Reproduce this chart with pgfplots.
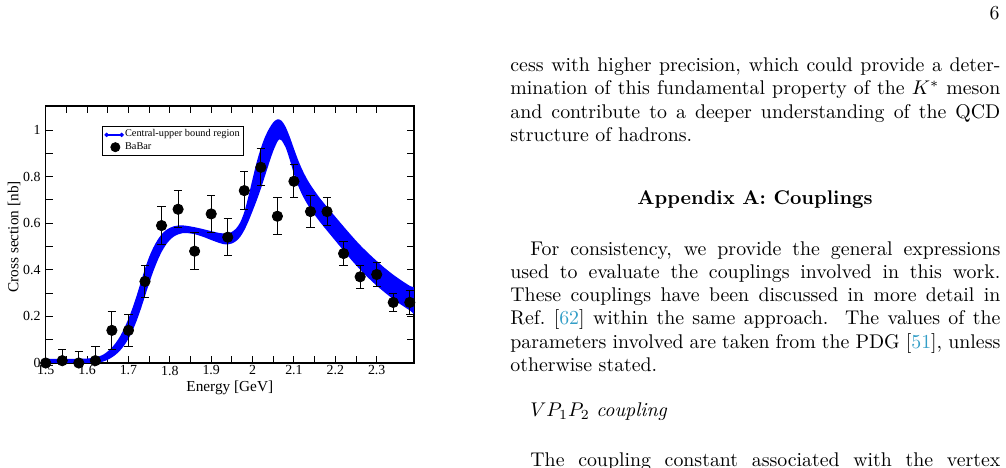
\documentclass[border=0pt]{standalone}
\usepackage{fontspec}
\usepackage{pgfplots}
\pgfplotsset{compat=1.18}
\newfontfamily\chartfont{Liberation Serif}
\definecolor{citecol}{rgb}{0.2,0.62,0.78}

% BaBar cross section: energy [GeV], sigma [nb], error
\pgfplotstableread{
E     s     e
1.50  0.00  0.00
1.54  0.01  0.05
1.58  0.00  0.05
1.62  0.01  0.06
1.66  0.14  0.08
1.70  0.14  0.07
1.74  0.35  0.07
1.78  0.59  0.08
1.82  0.66  0.08
1.86  0.48  0.08
1.90  0.64  0.08
1.94  0.54  0.08
1.98  0.74  0.08
2.02  0.84  0.08
2.06  0.63  0.08
2.10  0.78  0.07
2.14  0.65  0.07
2.18  0.65  0.06
2.22  0.47  0.05
2.26  0.37  0.05
2.30  0.38  0.05
2.34  0.26  0.04
2.38  0.26  0.05
}\babar

\begin{document}
\begin{tikzpicture}
\path[use as bounding box] (0,0) rectangle (507.02pt,-235.37pt);
\clip (0,0) rectangle (507.02pt,-235.37pt);

\begin{axis}[
  at={(23.03pt,-182.95pt)}, anchor=south west,
  scale only axis, width=185.6pt, height=129.5pt,
  xmin=1.5, xmax=2.39, ymin=0, ymax=1.103,
  xtick={1.5,1.6,1.7,1.8,1.9,2.0,2.1,2.2,2.3},
  ytick={0,0.2,0.4,0.6,0.8,1},
  minor x tick num=1, minor y tick num=1,
  tick align=inside,
  major tick length=3.5pt, minor tick length=3.5pt,
  every tick/.style={black, line width=0.5pt},
  axis line style={line width=0.6pt},
  /pgf/number format/assume math mode=true,
  tick label style={font=\chartfont\fontsize{7.0}{8}\selectfont},
  xticklabel style={inner sep=1.2pt},
  yticklabel style={inner sep=1.2pt, xshift=-1.2pt},
  xlabel={Energy [GeV]}, ylabel={Cross section [nb]},
  label style={font=\chartfont\fontsize{7.7}{9}\selectfont},
  xlabel style={at={(axis description cs:0.5,-0.098)}, anchor=center},
  ylabel style={at={(axis description cs:-0.086,0.491)}, anchor=center},
  legend cell align=left,
  legend style={at={(rel axis cs:0.152,0.923)}, anchor=north west,
    font=\chartfont\fontsize{5.2}{6}\selectfont, draw=black, line width=0.4pt,
    inner sep=1.2pt, row sep=0pt, column sep=0pt,
    nodes={inner sep=0.6pt}},
]
% central -- upper bound band: upper edge forward, lower edge backward
\addplot[fill=blue, draw=none, smooth, forget plot] coordinates {
(1.49,0.018) (1.52,0.018) (1.56,0.018) (1.60,0.019) (1.61,0.021) (1.62,0.024)
(1.63,0.029) (1.64,0.037) (1.65,0.050) (1.66,0.066) (1.67,0.088) (1.68,0.115)
(1.69,0.150) (1.70,0.190) (1.71,0.237) (1.72,0.290) (1.73,0.348) (1.74,0.405)
(1.75,0.455) (1.76,0.495) (1.77,0.527) (1.78,0.552) (1.79,0.569) (1.80,0.580)
(1.81,0.587) (1.82,0.590) (1.83,0.591) (1.84,0.589) (1.86,0.583) (1.88,0.575)
(1.90,0.566) (1.92,0.558) (1.93,0.556) (1.94,0.557) (1.95,0.563) (1.96,0.577)
(1.97,0.603) (1.98,0.648) (1.99,0.715) (2.00,0.790) (2.01,0.862) (2.02,0.922)
(2.03,0.970) (2.04,1.006) (2.05,1.033) (2.06,1.046) (2.07,1.040) (2.08,1.013)
(2.09,0.970) (2.10,0.920) (2.11,0.872) (2.12,0.830) (2.13,0.795) (2.14,0.765)
(2.16,0.714) (2.18,0.670) (2.20,0.628) (2.22,0.586) (2.24,0.545) (2.26,0.506)
(2.28,0.471) (2.30,0.438) (2.32,0.407) (2.34,0.379) (2.36,0.354) (2.38,0.331)
(2.40,0.310)
(2.40,0.205) (2.38,0.226) (2.36,0.249) (2.34,0.274) (2.32,0.302) (2.30,0.332)
(2.28,0.365) (2.26,0.401) (2.24,0.440) (2.22,0.482) (2.20,0.525) (2.18,0.568)
(2.16,0.612) (2.14,0.661) (2.13,0.689) (2.12,0.722) (2.11,0.762) (2.10,0.812)
(2.09,0.872) (2.08,0.925) (2.07,0.956) (2.065,0.960) (2.06,0.950) (2.05,0.910)
(2.04,0.858) (2.03,0.803) (2.02,0.748) (2.01,0.698) (2.00,0.652) (1.99,0.608)
(1.98,0.570) (1.97,0.541) (1.96,0.523) (1.95,0.513) (1.94,0.509) (1.93,0.510)
(1.92,0.515) (1.90,0.528) (1.88,0.542) (1.86,0.553) (1.84,0.558) (1.83,0.557)
(1.82,0.552) (1.81,0.543) (1.80,0.528) (1.79,0.506) (1.78,0.476) (1.77,0.438)
(1.76,0.393) (1.75,0.342) (1.74,0.287) (1.73,0.232) (1.72,0.182) (1.71,0.139)
(1.70,0.104) (1.69,0.076) (1.68,0.054) (1.67,0.037) (1.66,0.024) (1.65,0.014)
(1.64,0.007) (1.63,0.002) (1.62,-0.002) (1.61,-0.004) (1.60,-0.005) (1.56,-0.006)
(1.49,-0.006)
};
\addlegendimage{legend image code/.code={
  \draw[blue, line width=1pt] (0pt,0pt) -- (7.6pt,0pt);
  \fill[blue] (0pt,0pt) circle (0.9pt);
  \fill[blue] (7.6pt,0pt) circle (0.9pt);}}
\addlegendentry{Central-upper bound region}
\addlegendimage{legend image code/.code={
  \fill[black] (4.4pt,0pt) circle (2.3pt);}}
\addlegendentry{BaBar}

\addplot[only marks, mark=*, mark size=2.6pt, black, forget plot,
  error bars/.cd, y dir=both, y explicit,
  error bar style={line width=0.5pt},
  error mark options={rotate=90, line width=0.5pt, mark size=2.1pt}]
  table[x=E, y=s, y error=e] {\babar};
\end{axis}

\begin{scope}[x=0.504pt, y=-0.504pt]
\node[anchor=base east, inner sep=0] at (1000,20) {6};
% end of the preceding paragraph
\node[anchor=base west, inner sep=0] at (510,71.7) {\makebox[246.96pt][s]{cess with higher precision, which could provide a deter-}};
\node[anchor=base west, inner sep=0] at (510,95.0) {\makebox[246.96pt][s]{mination of this fundamental property of the $K^*$ meson}};
\node[anchor=base west, inner sep=0] at (510,118.3) {\makebox[246.96pt][s]{and contribute to a deeper understanding of the QCD}};
\node[anchor=base west, inner sep=0] at (510,141.6) {structure of hadrons.};
\node[anchor=base, inner sep=0] at (755,205) {\bfseries Appendix A: Couplings};
\node[anchor=base west, inner sep=0] at (530,255.0) {\makebox[236.88pt][s]{For consistency, we provide the general expressions}};
\node[anchor=base west, inner sep=0] at (510,278.3) {\makebox[246.96pt][s]{used to evaluate the couplings involved in this work.}};
\node[anchor=base west, inner sep=0] at (510,301.6) {\makebox[246.96pt][s]{These couplings have been discussed in more detail in}};
\node[anchor=base west, inner sep=0] at (510,324.9) {\makebox[246.96pt][s]{Ref.~[{\color{citecol}62}] within the same approach.\ \ The values of the}};
\node[anchor=base west, inner sep=0] at (510,348.2) {\makebox[246.96pt][s]{parameters involved are taken from the PDG [{\color{citecol}51}], unless}};
\node[anchor=base west, inner sep=0] at (510,371.5) {otherwise stated.};
\node[anchor=base west, inner sep=0] at (530,416.7) {$VP_1P_2$ \textit{coupling}};
\node[anchor=base west, inner sep=0] at (530,466.0) {\makebox[236.88pt][s]{The coupling constant associated with the vertex}};
\end{scope}
\end{tikzpicture}
\end{document}
